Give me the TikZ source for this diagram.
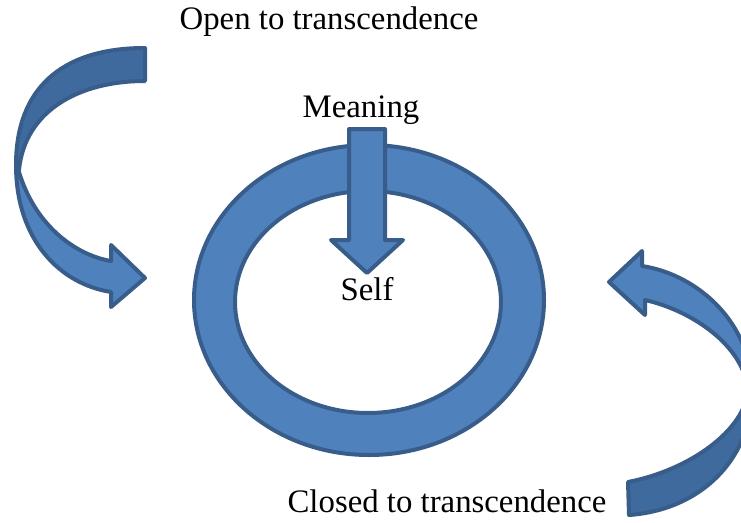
\documentclass[tikz,border=0pt]{standalone}
\usepackage{fontspec}
\setmainfont{Liberation Serif}
\definecolor{arrowblue}{HTML}{4F81BD}
\definecolor{arrowedge}{HTML}{385D8A}
\definecolor{arrowback}{HTML}{3F6A9E}

\begin{document}
\begin{tikzpicture}[x=1pt,y=-1pt,
    front/.style={fill=arrowblue, draw=arrowedge, line width=4pt, line join=round},
    back/.style={fill=arrowback, draw=arrowedge, line width=4pt, line join=round},
    textlabel/.style={font=\fontsize{32.8}{39}\selectfont, anchor=base, inner sep=0pt}]
  \useasboundingbox (0,0) rectangle (741,522);
  \clip (0,0) rectangle (741,522);

  % Ring around the self
  \draw[front, even odd rule] (369,300) ellipse [x radius=175pt, y radius=155pt]
    (368,302) ellipse [x radius=133pt, y radius=111pt];

  % Arrow pointing down into the ring
  \draw[front] (349,129) -- (385,129) -- (385,240) -- (403,240) -- (367,273)
    -- (331,240) -- (349,240) -- cycle;

  % Left curved arrow (back and front)
  \draw[back] (145,48) .. controls (60,48) and (16,90) .. (16,165) -- (19,170)
    .. controls (25,110) and (80,81) .. (145,81) -- cycle;
  \draw[front] (16,165) .. controls (16,240) and (60,284) .. (111,292) -- (111,307)
    -- (145,278) -- (111,245) -- (111,261) .. controls (75,255) and (35,225) .. (19,172) -- cycle;

  % Right curved arrow (back and front)
  \draw[back] (629,515) .. controls (700,510) and (752,460) .. (752,390) -- (748,390)
    .. controls (745,430) and (690,470) .. (628,482) -- cycle;
  \draw[front] (752,390) .. controls (752,325) and (700,275) .. (642,266) -- (642,251)
    -- (609,282) -- (645,315) -- (645,300) .. controls (690,310) and (745,345) .. (748,392) -- cycle;

  % Labels
  \node[textlabel] (open) at (329,29) {Open to transcendence};
  \node[textlabel] (meaning) at (361,117) {Meaning};
  \node[textlabel] (self) at (367,300) {Self};
  \node[textlabel] (closed) at (447,512) {Closed to transcendence};
\end{tikzpicture}
\end{document}
